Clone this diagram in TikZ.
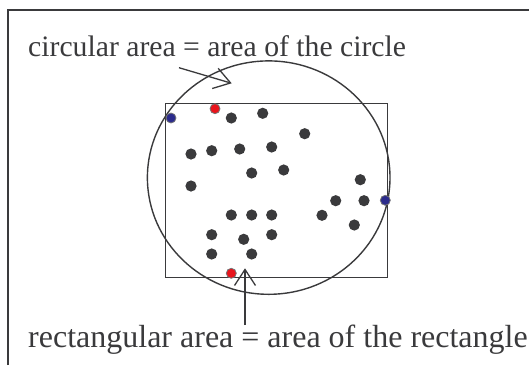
\documentclass[tikz,border=0pt]{standalone}
\usepackage{fontspec}
\setmainfont{Liberation Serif}
\usepackage{tikz}
\usetikzlibrary{positioning, arrows.meta}
\definecolor{ink}{HTML}{3A3A3C}
\definecolor{hitred}{HTML}{E8141C}
\definecolor{hitblue}{HTML}{2B2B8C}

\begin{document}
\begin{tikzpicture}[
    x=1pt, y=-1pt,
    frame/.style={draw=ink, line width=1.5pt},
    outline/.style={draw=ink, line width=1.4pt},
    label/.style={anchor=base west, inner sep=0pt, text=ink},
    dot/.style={fill=ink},
    edgedot/.style={draw=ink!70, line width=0.8pt},
    pointer/.style={-{Straight Barb[length=16pt, width=21pt, line width=1.3pt]}, draw=ink, line width=1.3pt}
]
\useasboundingbox (0,0) rectangle (529,365);

% Frame
\draw[frame] (8,365) -- (8,10) -- (529,10);

% Shapes
\draw[outline] (165.7,103.3) rectangle (387.7,277.7);
\draw[outline] (268.7,177.6) ellipse [x radius=121.3, y radius=116.7];

% Points
\foreach \px/\py in {231.3/118, 262.7/113.3, 304.7/133.7, 191/154, 211.7/150.7,
    239.7/149, 271.7/147, 251.7/173, 283.7/170, 191/186, 360.3/179.7,
    335.7/200.7, 364/200.7, 322/215.3, 354.3/225, 231.3/215, 251.7/215,
    271.7/215, 211.7/234.7, 243.7/239.3, 271.7/234.7, 211.7/254, 251.7/254}
  \fill[dot] (\px,\py) circle (5.6);
\filldraw[edgedot, fill=hitblue] (171,118) circle (5);
\filldraw[edgedot, fill=hitblue] (385.3,200.3) circle (5);
\filldraw[edgedot, fill=hitred] (215,108.7) circle (5);
\filldraw[edgedot, fill=hitred] (231.3,273.3) circle (5);

% Labels
\node[label, font=\fontsize{29.7}{32}\selectfont] (circlabel) at (28,56.7) {circular area = area of the circle};
\node[label, font=\fontsize{32}{35}\selectfont] (rectlabel) at (28,347.3) {rectangular area = area of the rectangle};

% Pointers
\coordinate (circstart) at (179,67.7);
\coordinate (circtip) at (231.7,83.3);
\coordinate (rectstart) at (245,325);
\coordinate (recttip) at (245,268.3);
\draw[pointer] (circstart) -- (circtip);
\draw[pointer] (rectstart) -- (recttip);
\end{tikzpicture}
\end{document}
